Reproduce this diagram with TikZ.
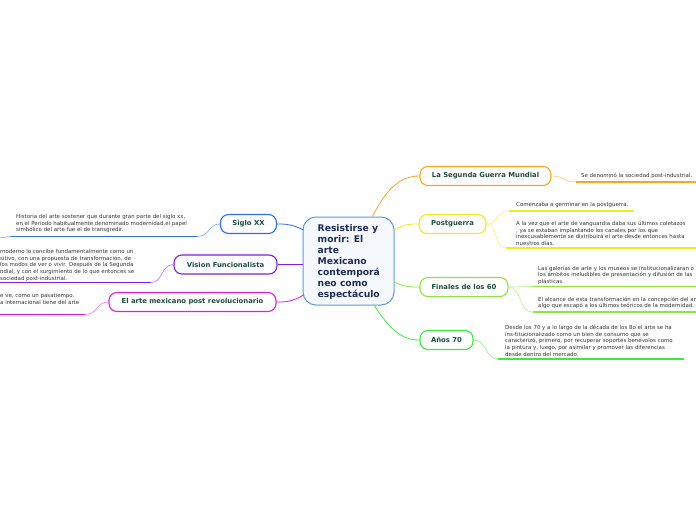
\documentclass[tikz,border=0pt]{standalone}
\usepackage{fontspec}
\setmainfont{DejaVu Sans}
\definecolor{cOrange}{HTML}{F5A623}
\definecolor{cYellow}{HTML}{F2EA1C}
\definecolor{cLime}{HTML}{8EE53F}
\definecolor{cGreen}{HTML}{3FE83F}
\definecolor{cBlue}{HTML}{2F6BEA}
\definecolor{cPurple}{HTML}{7A1FE8}
\definecolor{cMagenta}{HTML}{E01EDC}
\definecolor{cCenter}{HTML}{5C9BD6}
\definecolor{tNavy}{HTML}{1E2B55}
\definecolor{tGreen}{HTML}{1D4D3C}
\definecolor{tGray}{HTML}{333333}
\tikzset{
  branch/.style={draw=#1, line width=1.1pt, rounded corners=8pt, fill=white,
    minimum height=19pt, inner xsep=0pt, text=tGreen, font=\fontsize{6.85}{8}\selectfont\bfseries},
  leaf/.style={anchor=north west, inner sep=0pt, align=left, text=tGray,
    font=\fontsize{5.45}{6.7}\selectfont},
  link/.style={draw=#1, line width=0.8pt},
  sublink/.style={draw=#1!55, line width=0.7pt},
  uline/.style={draw=#1, line width=1.4pt}
}
\begin{document}
\begin{tikzpicture}[x=1pt,y=-1pt]
\useasboundingbox (0,0) rectangle (696,520);
\clip (0,0) rectangle (696,520);
\fill[white] (0,0) rectangle (696,520);

% centre
\node[draw=cCenter, line width=1pt, fill=cCenter!6, rounded corners=13pt,
  minimum width=91pt, minimum height=88pt, inner sep=0pt] (c) at (348.5,261) {};
\node[anchor=north west, inner sep=0pt, align=left, text=tNavy,
  font=\fontsize{9.2}{10.9}\selectfont\bfseries] (ct) at (317.5,224.5)
  {Resistirse y\\morir: El\\arte\\Mexicano\\contemporá\\neo como\\espectáculo};

% branch nodes right
\node[branch=cOrange, minimum width=131pt] (seg) at (485.5,176) {La Segunda Guerra Mundial};
\node[branch=cYellow, minimum width=67pt] (post) at (452.5,224) {Postguerra};
\node[branch=cLime, minimum width=88pt] (fin) at (464,287) {Finales de los 60};
\node[branch=cGreen, minimum width=53pt] (a70) at (446.5,340) {Años 70};

% branch nodes left
\node[branch=cBlue, minimum width=56pt] (sig) at (248.5,224) {Siglo XX};
\node[branch=cPurple, minimum width=103pt] (vis) at (225.5,264.5) {Vision Funcionalista};
\node[branch=cMagenta, minimum width=167pt] (mex) at (192.5,302) {El arte mexicano post revolucionario};

% centre links
\draw[link=cOrange] (372.5,216.5) .. controls (385,192) and (398,176) .. (seg.west);
\draw[link=cYellow] (393.8,230) .. controls (404,224) and (410,224) .. (post.west);
\draw[link=cLime] (394,282) .. controls (405,287) and (410,287) .. (fin.west);
\draw[link=cGreen] (374,305) .. controls (390,330) and (402,340) .. (a70.west);
\draw[link=cBlue] (303.5,230) .. controls (292,224) and (285,224) .. (sig.east);
\draw[link=cPurple] (303,264.5) -- (vis.east);
\draw[link=cMagenta] (303.5,295) .. controls (292,302) and (285,302) .. (mex.east);

% leaves: right
\node[leaf] (l1) at (581,173) {Se denominó la sociedad post-industrial.};
\coordinate (u1a) at (576,182); \coordinate (u1b) at (697,182);
\draw[uline=cOrange] (u1a) -- (u1b);
\draw[sublink=cOrange] (seg.east) .. controls (565,176) and (562,182) .. (u1a);

\node[leaf] (l2) at (516,202.5) {Comenzaba a germinar en la postguerra.};
\coordinate (u2a) at (509,211); \coordinate (u2b) at (634,211);
\draw[uline=cYellow] (u2a) -- (u2b);
\node[leaf] (l3) at (516,221) {A la vez que el arte de vanguardia daba sus últimos coletazos\\, ya se estaban implantando los canales por los que\\inexcusablemente se distribuirá el arte desde entonces hasta\\nuestros días.};
\coordinate (u3a) at (506,248); \coordinate (u3b) at (697,248);
\draw[uline=cYellow] (u3a) -- (u3b);
\draw[sublink=cYellow] (post.east) .. controls (498,224) and (496,211) .. (u2a);
\draw[sublink=cYellow] (post.east) .. controls (498,224) and (494,248) .. (u3a);

\node[leaf] (l4) at (538,265.5) {Las galerías de arte y los museos se institucionalizaran o\\los ámbitos ineludibles de presentación y difusión de las\\plásticas.};
\coordinate (u4a) at (533,286.5); \coordinate (u4b) at (697,286.5);
\draw[uline=cLime] (u4a) -- (u4b);
\node[leaf] (l5) at (538,296.5) {El alcance de esta transformación en la concepción del ar\\algo que escapó a los últimos teóricos de la modernidad.};
\coordinate (u5a) at (533,312); \coordinate (u5b) at (697,312);
\draw[uline=cLime] (u5a) -- (u5b);
\draw[sublink=cLime] (fin.east) .. controls (522,287) and (520,286.5) .. (u4a);
\draw[sublink=cLime] (fin.east) .. controls (522,287) and (518,312) .. (u5a);

\node[leaf] (l6) at (505,325) {Desde los 70 y a lo largo de la década de los 8o el arte se ha\\ins-titucionalizado como un bien de consumo que se\\caracterizó, primero, por recuperar soportes benévolos como\\la pintura y, luego, por asimilar y promover las diferencias\\desde dentro del mercado.};
\coordinate (u6a) at (498,359); \coordinate (u6b) at (684,359);
\draw[uline=cGreen] (u6a) -- (u6b);
\draw[sublink=cGreen] (a70.east) .. controls (487,340) and (485,359) .. (u6a);

% leaves: left
\node[leaf] (l7) at (16,214) {Historia del arte sostener que durante gran parte del siglo xx,\\en el Periodo habitualmente denominado modernidad,el papel\\simbólico del arte fue el de transgredir.};
\coordinate (u7a) at (11,236.5); \coordinate (u7b) at (197,236.5);
\draw[uline=cBlue] (u7a) -- (u7b);
\draw[sublink=cBlue] (sig.west) .. controls (208,224) and (210,236.5) .. (u7b);
\draw[sublink=cBlue] (u7a) .. controls (6,236.5) and (3,238) .. (-1,238);

\node[leaf] (l8) at (0,249) {moderno lo concibe fundamentalmente como un\\sitivo, con una propuesta de transformación, de\\los modos de ver o vivir. Después de la Segunda\\ndial, y con el surgimiento de lo que entonces se\\sociedad post-industrial.};
\coordinate (u8a) at (-1,282.5); \coordinate (u8b) at (151,282.5);
\draw[uline=cPurple] (u8a) -- (u8b);
\draw[sublink=cPurple] (vis.west) .. controls (161,264.5) and (163,282.5) .. (u8b);

\node[leaf] (l9) at (0,293) {e ve, como un pasatiempo.\\a internacional tiene del arte};
\coordinate (u9a) at (-1,314.5); \coordinate (u9b) at (85,314.5);
\draw[uline=cMagenta] (u9a) -- (u9b);
\draw[sublink=cMagenta] (mex.west) .. controls (96,302) and (98,314.5) .. (u9b);
\end{tikzpicture}
\end{document}
